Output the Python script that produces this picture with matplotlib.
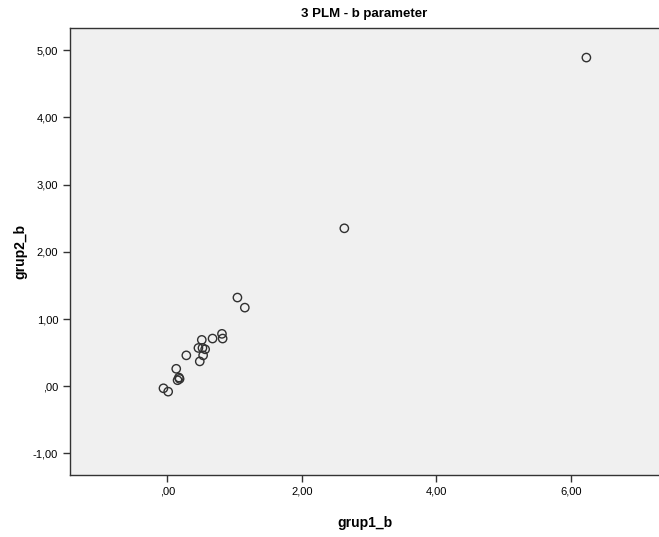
import numpy as np
import matplotlib
matplotlib.use("Agg")
import matplotlib.pyplot as plt
from matplotlib.ticker import FuncFormatter

plt.rcParams['font.family'] = ['Liberation Sans', 'DejaVu Sans']

# values
grup1_b = [6.23, 2.63, 1.04, 1.15, 0.81, 0.82, 0.67, 0.51, 0.46, 0.52, 0.56,
           0.53, 0.48, 0.28, 0.13, 0.17, 0.15, 0.18, -0.06, 0.01]
grup2_b = [4.89, 2.35, 1.32, 1.17, 0.78, 0.71, 0.71, 0.69, 0.57, 0.57, 0.55,
           0.46, 0.37, 0.46, 0.26, 0.13, 0.09, 0.11, -0.03, -0.08]
x_ticks = [0, 2, 4, 6]
y_ticks = [-1, 0, 1, 2, 3, 4, 5]


def spss_fmt(v, pos=None):
    s = f"{v:.2f}".replace(".", ",")
    if s.startswith("0,"):
        s = s[1:]
    elif s.startswith("-0,"):
        s = "-" + s[2:]
    return s


fig = plt.figure(figsize=(6.59, 5.37), dpi=100)
ax = fig.add_axes([70 / 659, 1 - 475 / 537, 589 / 659, 447 / 537])
ax.set_facecolor('#f0f0f0')

ax.scatter(grup1_b, grup2_b, s=36, facecolors='none', edgecolors='#303030',
           linewidths=1.0, zorder=3)

ax.set_xlim(-1.45, 7.31)
ax.set_ylim(-1.32, 5.33)
ax.set_xticks(x_ticks)
ax.set_yticks(y_ticks)
ax.xaxis.set_major_formatter(FuncFormatter(spss_fmt))
ax.yaxis.set_major_formatter(FuncFormatter(spss_fmt))
ax.tick_params(axis='both', labelsize=8, length=5, width=1, color='#333333',
               direction='out')

for side in ['left', 'bottom', 'top']:
    ax.spines[side].set_color('#333333')
    ax.spines[side].set_linewidth(1.0)
ax.spines['right'].set_visible(False)

ax.set_xlabel('grup1_b', fontsize=10, fontweight='bold', labelpad=14)
ax.set_ylabel('grup2_b', fontsize=10, fontweight='bold', labelpad=4)
ax.set_title('3 PLM - b parameter', fontsize=9.5, fontweight='bold', pad=8)

fig.savefig('out.png', dpi=100)
